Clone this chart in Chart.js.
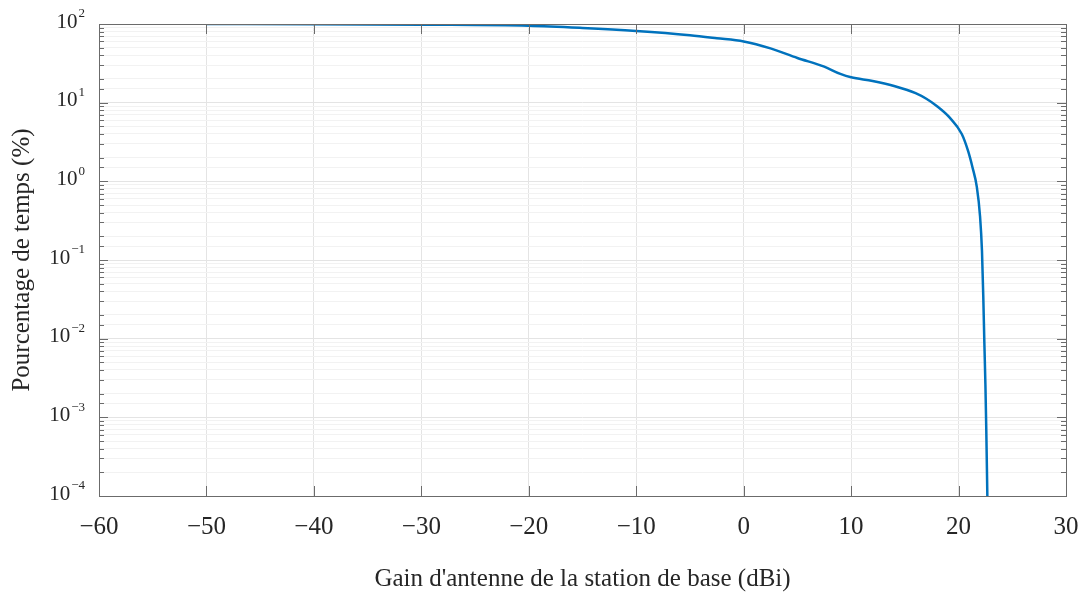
<!DOCTYPE html>
<html>
<head>
<meta charset="utf-8">
<script src="https://cdn.jsdelivr.net/npm/chart.js@4.4.1/dist/chart.umd.min.js"></script>
<style>
  html, body { margin: 0; padding: 0; background: #fff; }
  #wrap { width: 1082px; height: 594px; position: relative; }
</style>
</head>
<body>
<div id="wrap"><canvas id="chart"></canvas></div>
<script>
// --- DATA ---
const gainDbi = [-50, -40, -30, -20, -15, -10, -5, -2.5, 0, 2.5, 5, 7.5, 9, 10, 12, 14, 16, 17, 18, 19.2, 20.3, 20.9, 21.3, 21.7, 22.0, 22.18, 22.3, 22.4, 22.5, 22.58, 22.68];
const timePct = [100, 99.5, 98, 95, 89, 81.5, 72, 66, 60, 49, 37, 28.7, 23.2, 21, 18.9, 16.3, 13.2, 11.2, 9.0, 6.4, 4.0, 2.4, 1.5, 0.85, 0.36, 0.13, 0.035, 0.009, 0.0026, 0.0007, 0.0001];
const xTicks = [-60, -50, -40, -30, -20, -10, 0, 10, 20, 30];
const yDecades = [-4, -3, -2, -1, 0, 1, 2];

const xTitle = "Gain d'antenne de la station de base (dBi)";
const yTitle = 'Pourcentage de temps (%)';

// --- STYLE ---
const FONT = '"Liberation Serif", "Times New Roman", serif';
const INK = '#262626';
const BOX = '#6b6b6b';
const LINE = '#0072BD';

const isDecade = v => Math.abs(Math.log10(v) - Math.round(Math.log10(v))) < 1e-9;
const minus = s => String(s).replace('-', '\u2212');

// inner tick marks, box and 10^n labels (MATLAB look)
const axisDecor = {
  id: 'axisDecor',
  afterDraw(chart) {
    const { ctx, chartArea: a, scales: { x, y } } = chart;
    ctx.save();
    ctx.strokeStyle = BOX;
    ctx.lineWidth = 1;
    ctx.beginPath();
    y.ticks.forEach(t => {
      const py = Math.round(y.getPixelForValue(t.value)) + 0.5;
      const len = isDecade(t.value) ? 9 : 5;
      ctx.moveTo(a.left, py); ctx.lineTo(a.left + len, py);
      ctx.moveTo(a.right, py); ctx.lineTo(a.right - len, py);
    });
    xTicks.forEach(v => {
      const px = Math.round(x.getPixelForValue(v)) + 0.5;
      ctx.moveTo(px, a.bottom); ctx.lineTo(px, a.bottom - 10);
      ctx.moveTo(px, a.top); ctx.lineTo(px, a.top + 10);
    });
    ctx.stroke();
    ctx.strokeRect(Math.round(a.left) + 0.5, Math.round(a.top) + 0.5,
                   Math.round(a.right - a.left), Math.round(a.bottom - a.top));

    ctx.fillStyle = INK;
    ctx.textBaseline = 'middle';
    ctx.textAlign = 'left';
    yDecades.forEach(e => {
      const py = y.getPixelForValue(parseFloat('1e' + e));
      const exp = minus(e);
      ctx.font = '13px ' + FONT;
      const ew = ctx.measureText(exp).width;
      const right = a.left - 14;
      ctx.fillText(exp, right - ew, py - 10);
      ctx.font = '21px ' + FONT;
      const bw = ctx.measureText('10').width;
      ctx.fillText('10', right - ew - bw - 1, py - 2);
    });
    ctx.restore();
  }
};

new Chart(document.getElementById('chart'), {
  type: 'line',
  data: {
    datasets: [{
      data: gainDbi.map((g, i) => ({ x: g, y: timePct[i] })),
      borderColor: LINE,
      borderWidth: 2.5,
      pointRadius: 0,
      fill: false,
      cubicInterpolationMode: 'monotone'
    }]
  },
  options: {
    responsive: true,
    maintainAspectRatio: false,
    animation: false,
    devicePixelRatio: 1,
    layout: { padding: { top: 24, right: 16, left: 0, bottom: 0 } },
    plugins: { legend: { display: false }, tooltip: { enabled: false } },
    scales: {
      x: {
        type: 'linear',
        min: -60,
        max: 30,
        afterBuildTicks: s => { s.ticks = xTicks.map(v => ({ value: v })); },
        afterFit: s => { s.height = 98; s.paddingLeft = 0; s.paddingRight = 0; },
        grid: { color: '#e4e4e4', drawTicks: false },
        border: { display: false },
        ticks: {
          autoSkip: false,
          maxRotation: 0,
          padding: 16,
          color: INK,
          font: { family: FONT, size: 25 },
          callback: v => minus(v)
        },
        title: {
          display: true,
          text: xTitle,
          color: INK,
          font: { family: FONT, size: 25 },
          padding: { top: 0, bottom: 0 }
        }
      },
      y: {
        type: 'logarithmic',
        min: 1e-4,
        max: 100,
        afterFit: s => { s.width = 99; s.paddingTop = 0; s.paddingBottom = 0; },
        grid: {
          drawTicks: false,
          color: c => isDecade(c.tick.value) ? '#e4e4e4' : '#f2f2f2'
        },
        border: { display: false },
        ticks: { display: false, autoSkip: false },
        title: {
          display: true,
          text: yTitle,
          color: INK,
          font: { family: FONT, size: 25 },
          padding: { top: 7, bottom: 0 }
        }
      }
    }
  },
  plugins: [axisDecor]
});
</script>
</body>
</html>
